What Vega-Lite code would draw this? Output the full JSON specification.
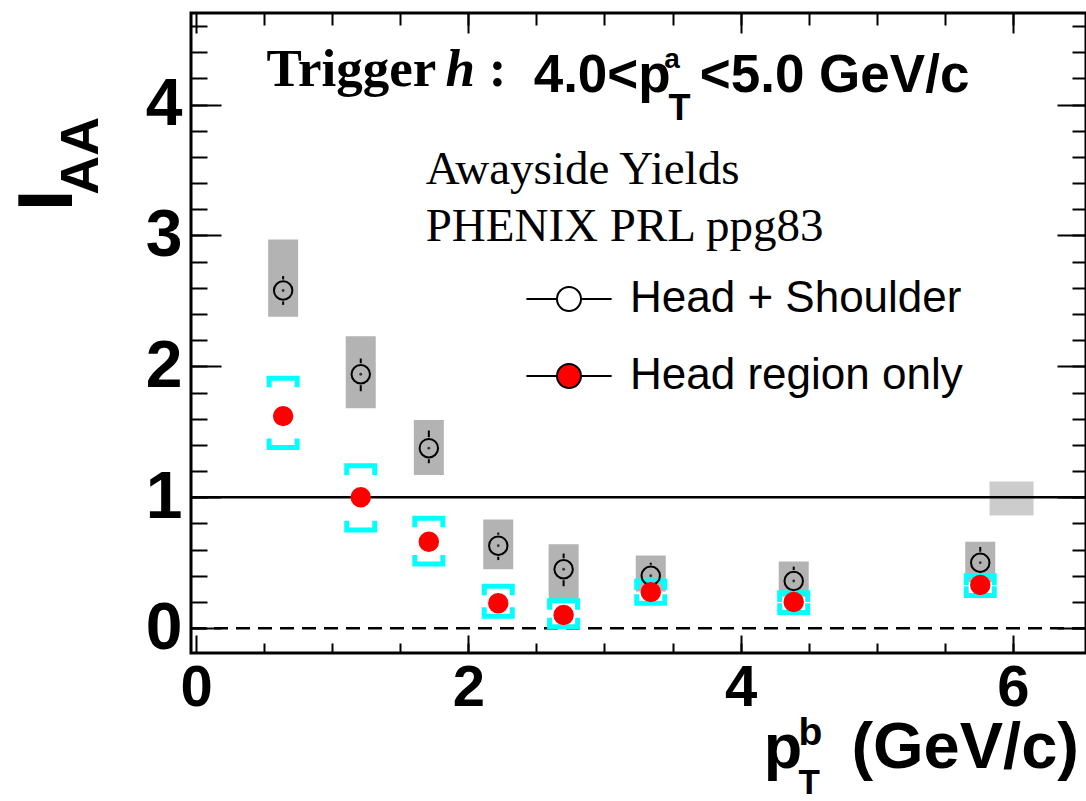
{
  "$schema": "https://vega.github.io/schema/vega-lite/v6.json",
  "width": 895,
  "height": 640,
  "autosize": {"type": "none"},
  "padding": {"left": 191, "top": 13, "right": 0, "bottom": 148},
  "background": "white",
  "config": {
    "view": {"stroke": "black", "strokeWidth": 3},
    "axis": {"grid": false, "domain": false, "labelColor": "black", "tickColor": "black", "title": null}
  },
  "datasets": {
    "all": [
      {"series": "Head + Shoulder", "x": 0.64, "y": 2.58, "statLo": 2.47, "statHi": 2.69, "sysLo": 2.38, "sysHi": 2.97},
      {"series": "Head + Shoulder", "x": 1.21, "y": 1.94, "statLo": 1.81, "statHi": 2.06, "sysLo": 1.68, "sysHi": 2.23},
      {"series": "Head + Shoulder", "x": 1.71, "y": 1.375, "statLo": 1.26, "statHi": 1.51, "sysLo": 1.17, "sysHi": 1.59},
      {"series": "Head + Shoulder", "x": 2.22, "y": 0.63, "statLo": 0.52, "statHi": 0.73, "sysLo": 0.45, "sysHi": 0.83},
      {"series": "Head + Shoulder", "x": 2.7, "y": 0.45, "statLo": 0.32, "statHi": 0.57, "sysLo": 0.22, "sysHi": 0.64},
      {"series": "Head + Shoulder", "x": 3.34, "y": 0.4, "statLo": 0.3, "statHi": 0.5, "sysLo": 0.28, "sysHi": 0.555},
      {"series": "Head + Shoulder", "x": 4.39, "y": 0.36, "statLo": 0.26, "statHi": 0.47, "sysLo": 0.24, "sysHi": 0.51},
      {"series": "Head + Shoulder", "x": 5.76, "y": 0.5, "statLo": 0.38, "statHi": 0.62, "sysLo": 0.35, "sysHi": 0.66},
      {"series": "Head region only", "x": 0.64, "y": 1.62, "sysLo": 1.38, "sysHi": 1.91},
      {"series": "Head region only", "x": 1.21, "y": 1.0, "sysLo": 0.75, "sysHi": 1.24},
      {"series": "Head region only", "x": 1.71, "y": 0.66, "sysLo": 0.49, "sysHi": 0.84},
      {"series": "Head region only", "x": 2.22, "y": 0.19, "sysLo": 0.09, "sysHi": 0.32},
      {"series": "Head region only", "x": 2.7, "y": 0.1, "sysLo": 0.01, "sysHi": 0.21},
      {"series": "Head region only", "x": 3.34, "y": 0.275, "sysLo": 0.19, "sysHi": 0.36},
      {"series": "Head region only", "x": 4.39, "y": 0.2, "sysLo": 0.12, "sysHi": 0.27},
      {"series": "Head region only", "x": 5.76, "y": 0.33, "sysLo": 0.25, "sysHi": 0.4}
    ],
    "norm": [
      {"x": 5.99, "lo": 0.86, "hi": 1.12}
    ],
    "one": [{}]
  },
  "resolve": {"axis": {"x": "independent", "y": "independent"}},
  "layer": [
    {
      "data": {"name": "all"},
      "transform": [{"filter": "datum.series === 'Head + Shoulder'"}],
      "mark": {"type": "bar", "width": 30, "color": "#b3b3b3"},
      "encoding": {
        "x": {"field": "x", "type": "quantitative", "scale": {"domain": [0, 6.5], "nice": false, "zero": false},
              "axis": {"orient": "bottom", "values": [0, 2, 4, 6], "ticks": false, "labelFont": "Liberation Sans", "labelFontWeight": "bold", "labelFontSize": 58, "labelPadding": 6, "labelFlush": false}},
        "y": {"field": "sysLo", "type": "quantitative", "scale": {"domain": [-0.19, 4.7], "nice": false, "zero": false},
              "axis": {"orient": "left", "values": [0, 1, 2, 3, 4], "ticks": false, "labelFont": "Liberation Sans", "labelFontWeight": "bold", "labelFontSize": 66, "labelPadding": 9}},
        "y2": {"field": "sysHi"}
      }
    },
    {
      "data": {"name": "norm"},
      "mark": {"type": "bar", "width": 44, "color": "#cccccc"},
      "encoding": {
        "x": {"field": "x", "type": "quantitative",
              "axis": {"orient": "bottom", "values": [0, 2, 4, 6], "labels": false, "tickSize": -18, "tickWidth": 2}},
        "y": {"field": "lo", "type": "quantitative",
              "axis": {"orient": "left", "values": [0, 1, 2, 3, 4], "labels": false, "tickSize": -30, "tickWidth": 2}},
        "y2": {"field": "hi"}
      }
    },
    {
      "data": {"name": "one"},
      "mark": {"type": "rule", "color": "black", "strokeWidth": 2.5},
      "encoding": {
        "y": {"datum": 1, "axis": {"orient": "left", "values": [0, 0.2, 0.4, 0.6, 0.8, 1, 1.2, 1.4, 1.6, 1.8, 2, 2.2, 2.4, 2.6, 2.8, 3, 3.2, 3.4, 3.6, 3.8, 4, 4.2, 4.4, 4.6], "labels": false, "tickSize": -16, "tickWidth": 2}}
      }
    },
    {
      "data": {"name": "one"},
      "mark": {"type": "rule", "color": "black", "strokeWidth": 2.5, "strokeDash": [14, 8]},
      "encoding": {
        "y": {"datum": 0, "axis": {"orient": "right", "values": [0, 1, 2, 3, 4], "labels": false, "tickSize": -29, "tickWidth": 2}}
      }
    },
    {
      "data": {"name": "all"},
      "transform": [{"filter": "datum.series === 'Head + Shoulder'"}],
      "mark": {"type": "rule", "color": "black", "strokeWidth": 2, "yOffset": -11},
      "encoding": {
        "x": {"field": "x", "type": "quantitative", "axis": {"orient": "top", "values": [0.5, 1, 1.5, 2, 2.5, 3, 3.5, 4, 4.5, 5, 5.5, 6], "labels": false, "tickSize": -12, "tickWidth": 2}},
        "y": {"field": "y", "type": "quantitative", "axis": {"orient": "right", "values": [0, 0.2, 0.4, 0.6, 0.8, 1, 1.2, 1.4, 1.6, 1.8, 2, 2.2, 2.4, 2.6, 2.8, 3, 3.2, 3.4, 3.6, 3.8, 4, 4.2, 4.4, 4.6], "labels": false, "tickSize": -14, "tickWidth": 2}},
        "y2": {"field": "statHi"}
      }
    },
    {
      "data": {"name": "all"},
      "transform": [{"filter": "datum.series === 'Head + Shoulder'"}],
      "mark": {"type": "rule", "color": "black", "strokeWidth": 2, "y2Offset": 11},
      "encoding": {
        "x": {"field": "x", "type": "quantitative", "axis": {"orient": "bottom", "values": [0.5, 1, 1.5, 2, 2.5, 3, 3.5, 4, 4.5, 5, 5.5, 6], "labels": false, "tickSize": -10, "tickWidth": 2}},
        "y": {"field": "statLo", "type": "quantitative", "axis": null},
        "y2": {"field": "y"}
      }
    },
    {
      "data": {"name": "all"},
      "transform": [{"filter": "datum.series === 'Head + Shoulder'"}],
      "mark": {"type": "point", "filled": true, "size": 8, "color": "black"},
      "encoding": {
        "x": {"field": "x", "type": "quantitative", "axis": {"orient": "top", "values": [0, 2, 4, 6], "labels": false, "tickSize": -20, "tickWidth": 2}},
        "y": {"field": "y", "type": "quantitative", "axis": null}
      }
    },
    {
      "data": {"name": "all"},
      "transform": [{"filter": "datum.series === 'Head region only'"}],
      "mark": {"type": "point", "filled": false, "shape": "M-1,0.65L-1,0L1,0L1,0.65", "size": 784, "stroke": "#00ffff", "strokeWidth": 5, "opacity": 1},
      "encoding": {
        "x": {"field": "x", "type": "quantitative", "axis": null},
        "y": {"field": "sysHi", "type": "quantitative", "axis": null}
      }
    },
    {
      "data": {"name": "all"},
      "transform": [{"filter": "datum.series === 'Head region only'"}],
      "mark": {"type": "point", "filled": false, "shape": "M-1,-0.65L-1,0L1,0L1,-0.65", "size": 784, "stroke": "#00ffff", "strokeWidth": 5, "opacity": 1},
      "encoding": {
        "x": {"field": "x", "type": "quantitative", "axis": null},
        "y": {"field": "sysLo", "type": "quantitative", "axis": null}
      }
    },
    {
      "data": {"name": "all"},
      "mark": {"type": "point", "filled": true, "size": 340, "strokeWidth": 2, "opacity": 1},
      "encoding": {
        "x": {"field": "x", "type": "quantitative", "axis": null},
        "y": {"field": "y", "type": "quantitative", "axis": null},
        "fill": {"field": "series", "type": "nominal",
                 "scale": {"domain": ["Head + Shoulder", "Head region only"], "range": ["transparent", "#ff0000"]},
                 "legend": {"orient": "none", "legendX": 356, "legendY": 264, "title": null, "padding": 0,
                            "labelFont": "Liberation Sans", "labelFontSize": 44, "labelColor": "black", "labelLimit": 0,
                            "symbolType": "M-3.55,0L-1,0M1,0L3.55,0M1,0A1,1,0,1,1,-1,0A1,1,0,1,1,1,0Z",
                            "symbolSize": 576, "labelOffset": 39, "rowPadding": 33, "symbolOffset": 0,
                            "symbolStrokeColor": "black", "symbolStrokeWidth": 2,
                            "encode": {"symbols": {"update": {"stroke": {"value": "black"}, "strokeWidth": {"value": 2}, "opacity": {"value": 1}}}}}},
        "stroke": {"condition": {"test": "datum.series === 'Head + Shoulder'", "value": "black"}, "value": "#ff0000"}
      }
    },
    {
      "data": {"name": "one"},
      "mark": {"type": "text", "font": "Liberation Serif", "fontWeight": "bold", "fontSize": 53, "align": "left", "baseline": "alphabetic", "color": "black"},
      "encoding": {"x": {"datum": 0.518, "axis": null}, "y": {"datum": 4.146, "axis": null}, "text": {"value": "Trigger"}}
    },
    {
      "data": {"name": "one"},
      "mark": {"type": "text", "font": "Liberation Serif", "fontWeight": "bold", "fontStyle": "italic", "fontSize": 53, "align": "left", "baseline": "alphabetic", "color": "black"},
      "encoding": {"x": {"datum": 1.833, "axis": null}, "y": {"datum": 4.146, "axis": null}, "text": {"value": "h"}}
    },
    {
      "data": {"name": "one"},
      "mark": {"type": "text", "font": "Liberation Serif", "fontWeight": "bold", "fontSize": 53, "align": "left", "baseline": "alphabetic", "color": "black"},
      "encoding": {"x": {"datum": 2.15, "axis": null}, "y": {"datum": 4.146, "axis": null}, "text": {"value": ":"}}
    },
    {
      "data": {"name": "one"},
      "mark": {"type": "text", "font": "Liberation Sans", "fontWeight": "bold", "fontSize": 53, "align": "left", "baseline": "alphabetic", "color": "black"},
      "encoding": {"x": {"datum": 2.48, "axis": null}, "y": {"datum": 4.093, "axis": null}, "text": {"value": "4.0<p"}}
    },
    {
      "data": {"name": "one"},
      "mark": {"type": "text", "font": "Liberation Sans", "fontWeight": "bold", "fontSize": 28, "align": "left", "baseline": "alphabetic", "color": "black"},
      "encoding": {"x": {"datum": 3.44, "axis": null}, "y": {"datum": 4.28, "axis": null}, "text": {"value": "a"}}
    },
    {
      "data": {"name": "one"},
      "mark": {"type": "text", "font": "Liberation Sans", "fontWeight": "bold", "fontSize": 36, "align": "left", "baseline": "alphabetic", "color": "black"},
      "encoding": {"x": {"datum": 3.47, "axis": null}, "y": {"datum": 3.88, "axis": null}, "text": {"value": "T"}}
    },
    {
      "data": {"name": "one"},
      "mark": {"type": "text", "font": "Liberation Sans", "fontWeight": "bold", "fontSize": 53, "align": "left", "baseline": "alphabetic", "color": "black"},
      "encoding": {"x": {"datum": 3.70, "axis": null}, "y": {"datum": 4.093, "axis": null}, "text": {"value": "<5.0 GeV/c"}}
    },
    {
      "data": {"name": "one"},
      "mark": {"type": "text", "font": "Liberation Serif", "fontSize": 47, "align": "left", "baseline": "alphabetic", "color": "black"},
      "encoding": {"x": {"datum": 1.687, "axis": null}, "y": {"datum": 3.397, "axis": null}, "text": {"value": "Awayside Yields"}}
    },
    {
      "data": {"name": "one"},
      "mark": {"type": "text", "font": "Liberation Serif", "fontSize": 47, "align": "left", "baseline": "alphabetic", "color": "black"},
      "encoding": {"x": {"datum": 1.687, "axis": null}, "y": {"datum": 2.96, "axis": null}, "text": {"value": "PHENIX PRL ppg83"}}
    },
    {
      "data": {"name": "one"},
      "mark": {"type": "text", "font": "Liberation Sans", "fontWeight": "bold", "fontSize": 78, "align": "center", "baseline": "alphabetic", "angle": 270, "color": "black"},
      "encoding": {"x": {"datum": -0.913, "axis": null}, "y": {"datum": 3.268, "axis": null}, "text": {"value": "I"}}
    },
    {
      "data": {"name": "one"},
      "mark": {"type": "text", "font": "Liberation Sans", "fontWeight": "bold", "fontSize": 54, "align": "center", "baseline": "alphabetic", "angle": 270, "color": "black"},
      "encoding": {"x": {"datum": -0.717, "axis": null}, "y": {"datum": 3.61, "axis": null}, "text": {"value": "AA"}}
    },
    {
      "data": {"name": "one"},
      "mark": {"type": "text", "font": "Liberation Sans", "fontWeight": "bold", "fontSize": 63, "align": "left", "baseline": "alphabetic", "color": "black"},
      "encoding": {"x": {"datum": 4.17, "axis": null}, "y": {"datum": -1.07, "axis": null}, "text": {"value": "p"}}
    },
    {
      "data": {"name": "one"},
      "mark": {"type": "text", "font": "Liberation Sans", "fontWeight": "bold", "fontSize": 39, "align": "left", "baseline": "alphabetic", "color": "black"},
      "encoding": {"x": {"datum": 4.425, "axis": null}, "y": {"datum": -0.896, "axis": null}, "text": {"value": "b"}}
    },
    {
      "data": {"name": "one"},
      "mark": {"type": "text", "font": "Liberation Sans", "fontWeight": "bold", "fontSize": 35, "align": "left", "baseline": "alphabetic", "color": "black"},
      "encoding": {"x": {"datum": 4.425, "axis": null}, "y": {"datum": -1.265, "axis": null}, "text": {"value": "T"}}
    },
    {
      "data": {"name": "one"},
      "mark": {"type": "text", "font": "Liberation Sans", "fontWeight": "bold", "fontSize": 65, "align": "right", "baseline": "alphabetic", "color": "black"},
      "encoding": {"x": {"datum": 6.485, "axis": null}, "y": {"datum": -1.07, "axis": null}, "text": {"value": "(GeV/c)"}}
    }
  ]
}
